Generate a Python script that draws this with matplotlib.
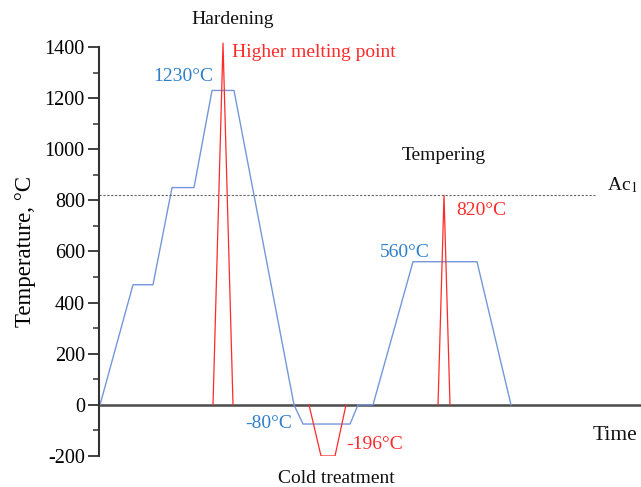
import matplotlib
matplotlib.use("Agg")
import matplotlib.pyplot as plt
from matplotlib.ticker import MultipleLocator

plt.rcParams['font.family'] = ['Liberation Serif', 'DejaVu Serif']
plt.rcParams['mathtext.fontset'] = 'stix'
plt.rcParams['axes.unicode_minus'] = False

# heat treatment cycle (time in arbitrary units, temperature in degC)
heat_time = [0, 33, 53, 72, 94, 112, 134, 194, 203, 250, 258, 273, 313, 377, 411]
heat_temp = [0, 470, 470, 850, 850, 1230, 1230, 0, -75, -75, 0, 0, 560, 560, 0]

# red spikes / cold dip
melt_time = [113, 123, 133]
melt_temp = [0, 1415, 0]
cryo_time = [209, 221, 235, 246]
cryo_temp = [0, -200, -200, 0]
temper_time = [338, 344, 350]
temper_temp = [0, 820, 0]

ac1_temp = 820
y_ticks = [-200, 0, 200, 400, 600, 800, 1000, 1200, 1400]

blue_line = '#7497DB'
blue_text = '#2F7FCB'
red = '#FF2A2A'

fig = plt.figure(figsize=(6.41, 4.87), dpi=100)
ax = fig.add_axes([0.154, 0.0637, 0.846, 0.8398])

ax.plot(heat_time, heat_temp, color=blue_line, lw=1.0)
ax.plot(melt_time, melt_temp, color=red, lw=0.9, clip_on=False)
ax.plot(cryo_time, cryo_temp, color=red, lw=0.9)
ax.plot(temper_time, temper_temp, color=red, lw=0.9)

ax.plot([-1.3, 495], [ac1_temp, ac1_temp], color='#666666', lw=0.8,
        linestyle=(0, (2, 1.5)))
ax.axhline(0, color='#4a4a4a', lw=1.8, zorder=1)

ax.set_xlim(-1.3, 541)
ax.set_ylim(-200, 1400)
ax.set_yticks(y_ticks)
ax.yaxis.set_minor_locator(MultipleLocator(100))
ax.set_xticks([])
for s in ['top', 'right', 'bottom']:
    ax.spines[s].set_visible(False)
ax.spines['left'].set_color('#333333')
ax.spines['left'].set_linewidth(1.5)
ax.tick_params(axis='y', which='major', length=8, width=1.3, color='#333333',
               labelsize=14.5, pad=2)
ax.tick_params(axis='y', which='minor', length=4, width=1.1, color='#333333')
ax.set_ylabel('Temperature, °C', fontsize=16.5, labelpad=6)

fs = 14
ax.text(133, 1509, 'Hardening', ha='center', va='center', fontsize=fs, color='#111111')
ax.text(132, 1379, 'Higher melting point', ha='left', va='center', fontsize=fs, color=red)
ax.text(113, 1285, '1230°C', ha='right', va='center', fontsize=fs, color=blue_text)
ax.text(344, 977, 'Tempering', ha='center', va='center', fontsize=fs, color='#111111')
ax.text(507, 860, 'Ac$_1$', ha='left', va='center', fontsize=fs, color='#111111')
ax.text(356, 761, '820°C', ha='left', va='center', fontsize=fs, color=red)
ax.text(280, 596, '560°C', ha='left', va='center', fontsize=fs, color=blue_text)
ax.text(192, -73, '-80°C', ha='right', va='center', fontsize=fs, color=blue_text)
ax.text(246, -157, '-196°C', ha='left', va='center', fontsize=fs, color=red)
ax.text(236, -290, 'Cold treatment', ha='center', va='center', fontsize=fs, color='#111111')
ax.text(537, -118, 'Time', ha='right', va='center', fontsize=15.5, color='#111111')

fig.savefig('out.png', dpi=100)
